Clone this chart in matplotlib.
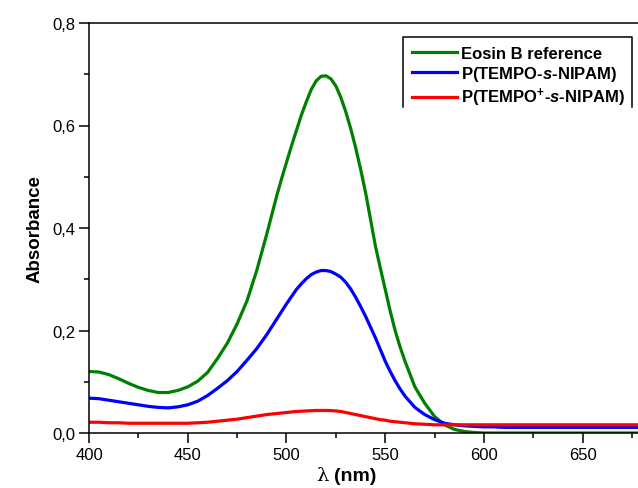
import matplotlib
matplotlib.use("Agg")
import matplotlib.pyplot as plt
from matplotlib.lines import Line2D
from matplotlib.offsetbox import AnchoredOffsetbox, HPacker, TextArea
from matplotlib.ticker import FuncFormatter, MultipleLocator

plt.rcParams["font.family"] = ["Liberation Sans", "DejaVu Sans"]
plt.rcParams["mathtext.fontset"] = "custom"
plt.rcParams["mathtext.rm"] = "Liberation Sans:bold"
plt.rcParams["mathtext.bf"] = "Liberation Sans:bold"
plt.rcParams["mathtext.it"] = "Liberation Sans:bold:italic"

# wavelength grid (nm), denser over the band
wavelength = [
    400, 405, 410, 415, 420, 425, 430, 435, 440, 445, 450, 455, 460, 465, 470,
    475, 480, 485, 490, 492.5, 495, 497.5, 500, 502.5, 505, 507.5, 510, 512.5,
    515, 517.5, 520, 522.5, 525, 527.5, 530, 532.5, 535, 537.5, 540, 542.5, 545,
    547.5, 550, 552.5, 555, 557.5, 560, 565, 570, 575, 580, 585, 590, 595, 600,
    605, 610, 615, 620, 625, 630, 635, 640, 645, 650, 655, 660, 665, 670, 675,
    680,
]

eosin_b = [
    0.120, 0.119, 0.114, 0.106, 0.097, 0.089, 0.083, 0.079, 0.079, 0.083, 0.090,
    0.101, 0.118, 0.145, 0.175, 0.213, 0.258, 0.318, 0.388, 0.425, 0.462, 0.496,
    0.528, 0.560, 0.590, 0.620, 0.646, 0.670, 0.687, 0.696, 0.697, 0.691, 0.677,
    0.655, 0.627, 0.594, 0.557, 0.515, 0.470, 0.418, 0.365, 0.322, 0.280, 0.238,
    0.200, 0.168, 0.140, 0.090, 0.058, 0.032, 0.016, 0.007, 0.003, 0.001, 0.000,
    0.000, 0.000, 0.000, 0.000, 0.000, 0.000, 0.000, 0.000, 0.000, 0.000, 0.000,
    0.000, 0.000, 0.000, 0.000, 0.000,
]

tempo_nipam = [
    0.068, 0.067, 0.064, 0.061, 0.058, 0.055, 0.052, 0.050, 0.049, 0.051, 0.055,
    0.062, 0.073, 0.087, 0.102, 0.120, 0.142, 0.165, 0.192, 0.207, 0.222, 0.237,
    0.252, 0.266, 0.280, 0.291, 0.301, 0.309, 0.314, 0.317, 0.317, 0.315, 0.310,
    0.304, 0.294, 0.281, 0.265, 0.247, 0.228, 0.207, 0.186, 0.163, 0.140, 0.120,
    0.102, 0.086, 0.072, 0.050, 0.036, 0.026, 0.019, 0.016, 0.014, 0.013, 0.012,
    0.012, 0.011, 0.011, 0.011, 0.011, 0.011, 0.011, 0.011, 0.011, 0.011, 0.011,
    0.011, 0.011, 0.011, 0.011, 0.011,
]

tempo_plus_nipam = [
    0.021, 0.021, 0.020, 0.020, 0.019, 0.019, 0.019, 0.019, 0.019, 0.019, 0.019,
    0.020, 0.021, 0.023, 0.025, 0.027, 0.030, 0.033, 0.036, 0.037, 0.038, 0.039,
    0.040, 0.041, 0.042, 0.0425, 0.043, 0.0435, 0.044, 0.044, 0.044, 0.0437,
    0.043, 0.042, 0.040, 0.038, 0.036, 0.034, 0.032, 0.030, 0.028, 0.026, 0.025,
    0.023, 0.022, 0.021, 0.020, 0.018, 0.017, 0.016, 0.016, 0.016, 0.016, 0.016,
    0.016, 0.016, 0.016, 0.016, 0.016, 0.016, 0.016, 0.016, 0.016, 0.016, 0.016,
    0.016, 0.016, 0.016, 0.016, 0.016, 0.016,
]

series = [
    (eosin_b, "#008000", "Eosin B reference"),
    (tempo_nipam, "#0000ff", r"P(TEMPO-$\mathit{s}$-NIPAM)"),
    (tempo_plus_nipam, "#ff0000", r"P(TEMPO$^{+}$-$\mathit{s}$-NIPAM)"),
]

fig = plt.figure(figsize=(6.38, 4.89), dpi=100)
ax = fig.add_axes([89 / 638, 55 / 489, 553 / 638, 410 / 489])

for ys, color, label in series:
    ax.plot(wavelength, ys, color=color, lw=2.3, label=label)

ax.set_xlim(400, 680)
ax.set_ylim(0, 0.8)
ax.xaxis.set_major_locator(MultipleLocator(50))
ax.xaxis.set_minor_locator(MultipleLocator(25))
ax.yaxis.set_major_locator(MultipleLocator(0.2))
ax.yaxis.set_minor_locator(MultipleLocator(0.1))
ax.yaxis.set_major_formatter(FuncFormatter(lambda v, p: f"{v:.1f}".replace(".", ",")))

ax.tick_params(which="major", direction="out", length=7, width=1.1, labelsize=12, pad=3)
ax.tick_params(which="minor", direction="out", length=3.5, width=1.1)
for side in ("left", "bottom", "top"):
    ax.spines[side].set_linewidth(1.1)
ax.spines["right"].set_visible(False)

ax.set_ylabel("Absorbance", fontsize=13.5, fontweight="bold", labelpad=6)

# x label: plain lambda + bold unit
xlab = HPacker(
    children=[
        TextArea("λ", textprops=dict(fontsize=14, family="DejaVu Serif")),
        TextArea("(nm)", textprops=dict(fontsize=14, fontweight="bold")),
    ],
    align="baseline", pad=0, sep=4,
)
ax.add_artist(AnchoredOffsetbox(
    loc="center", child=xlab, frameon=False, pad=0, borderpad=0,
    bbox_to_anchor=(346 / 638, 1 - 476 / 489), bbox_transform=fig.transFigure,
))

leg = ax.legend(
    loc="upper left", bbox_to_anchor=(403 / 638, 1 - 38 / 489),
    bbox_transform=fig.transFigure, borderaxespad=0,
    prop={"weight": "bold", "size": 12}, handlelength=2.7,
    handletextpad=0.25, labelspacing=0.18, frameon=False,
    borderpad=0.55,
)
for h in leg.legend_handles:
    h.set_linewidth(2.3)

# legend frame with open bottom edge, as in the source figure
fx0, fx1 = 403 / 638, 632 / 638
fy0, fy1 = 1 - 108 / 489, 1 - 38 / 489
fig.add_artist(Line2D([fx0, fx0, fx1, fx1], [fy0, fy1, fy1, fy0],
                      transform=fig.transFigure, color="black", lw=1.1))

fig.savefig("out.png", dpi=100)
